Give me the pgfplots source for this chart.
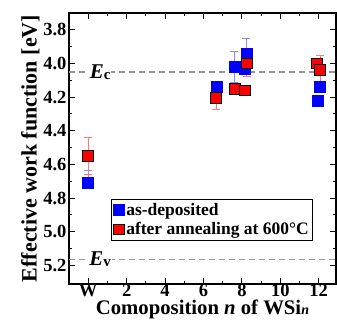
\documentclass[border=0pt]{standalone}
\usepackage{fontspec}
\setmainfont{Liberation Serif}
\usepackage{pgfplots}
\pgfplotsset{compat=1.18}
\definecolor{ebred}{RGB}{255,120,120}
\definecolor{ebblue}{RGB}{140,140,255}
\definecolor{dgray}{RGB}{150,150,150}
\begin{document}
\begin{tikzpicture}
\useasboundingbox (-69pt,-41pt) rectangle (268pt,284pt);
\begin{axis}[
  at={(0,0)}, anchor=south west,
  scale only axis, width=267pt, height=271pt,
  xmin=-1, xmax=12.9, ymin=3.7, ymax=5.31, y dir=reverse,
  axis line style={line width=1.3pt},
  tick style={black, line width=1pt},
  major tick length=6pt, minor tick length=3pt,
  tick align=inside,
  xtick={0,2,4,6,8,10,12}, xticklabels={W,2,4,6,8,10,12},
  minor x tick num=1,
  ytick={3.8,4.0,...,5.2}, minor y tick num=1,
  yticklabel style={/pgf/number format/fixed, /pgf/number format/fixed zerofill, /pgf/number format/precision=1, xshift=1pt},
  /pgf/number format/assume math mode=true,
  tick label style={font=\fontsize{18.5}{18.5}\selectfont\bfseries},
  xticklabel style={inner sep=0pt, yshift=0pt},
  xlabel={Comoposition \textit{n} of WSi\textit{\fontsize{14}{14}\selectfont n}},
  ylabel={Effective work function [eV]},
  xlabel style={font=\fontsize{20.7}{20.7}\selectfont\bfseries, inner sep=0pt, yshift=-3pt},
  ylabel style={font=\fontsize{22}{22}\selectfont\bfseries, yshift=-3pt},
  legend style={at={(0.156,0.159)}, anchor=south west, draw=black, line width=1.2pt,
    font=\fontsize{17.5}{17.5}\selectfont\bfseries, row sep=1.5pt, inner xsep=2pt, inner ysep=2pt,
    /tikz/every even column/.append style={column sep=0pt}},
  legend cell align=left,
  clip=false,
]
\addplot[dgray, dashed, line width=1.3pt, dash pattern=on 6pt off 4pt, forget plot] coordinates {(-1,4.05) (12.9,4.05)};
\addplot[dgray, dashed, line width=1.3pt, dash pattern=on 6pt off 4pt, forget plot] coordinates {(-1,5.165) (12.9,5.165)};
\node[fill=white, inner sep=1pt, font=\fontsize{21}{21}\selectfont\bfseries] at (axis cs:0.62,4.05) {\textit{E}\raisebox{-1pt}{\fontsize{15}{15}\selectfont c}};
\node[fill=white, inner sep=1pt, font=\fontsize{21}{21}\selectfont\bfseries] at (axis cs:0.62,5.165) {\textit{E}\raisebox{-1pt}{\fontsize{15}{15}\selectfont v}};
% as-deposited
\addplot[only marks, mark=square*, mark size=5.5pt, mark options={fill=blue, draw=blue, line width=0.5pt},
  error bars/.cd, y dir=both, y explicit, error bar style={ebblue, line width=0.8pt},
  error mark options={rotate=90, mark size=4pt, line width=0.8pt, ebblue}]
  coordinates {
  (0,4.71) -= (0,0.075) += (0,0.0)
  (6.67,4.14) -= (0,0) += (0,0)
  (7.61,4.02) -= (0,0.09) += (0,0.09)
  (8.16,4.03) -= (0,0) += (0,0)
  (8.24,3.94) -= (0,0.09) += (0,0.05)
  (12.07,4.14) -= (0,0) += (0,0)
  (11.93,4.22) -= (0,0) += (0,0)
  };
\addlegendentry{as-deposited}
% after annealing
\addplot[only marks, mark=square*, mark size=5.3pt, mark options={fill=red, draw=black, line width=1.1pt},
  error bars/.cd, y dir=both, y explicit, error bar style={ebred, line width=0.8pt},
  error mark options={rotate=90, mark size=4pt, line width=0.8pt, ebred}]
  coordinates {
  (0,4.55) -= (0,0.11) += (0,0.11)
  (6.65,4.205) -= (0,0.065) += (0,0.065)
  (7.63,4.15) -= (0,0) += (0,0)
  (8.15,4.16) -= (0,0) += (0,0)
  (8.26,4.00) -= (0,0.09) += (0,0.075)
  (11.92,4.00) -= (0,0) += (0,0)
  (12.07,4.04) -= (0,0.09) += (0,0.085)
  };
\addlegendentry{after annealing at 600\textdegree C}
\end{axis}
\end{tikzpicture}
\end{document}
